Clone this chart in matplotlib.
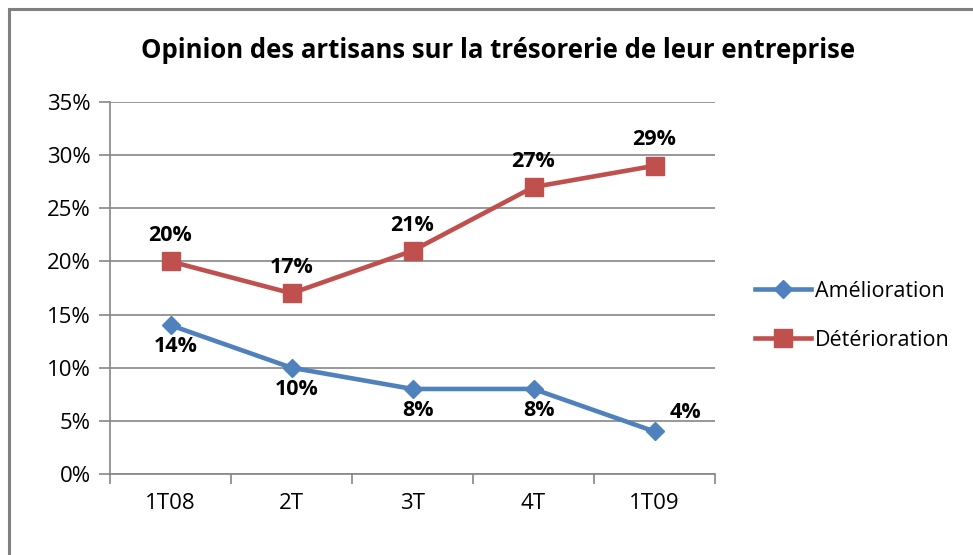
import matplotlib.pyplot as plt
from matplotlib.lines import Line2D
from matplotlib.patches import Rectangle

plt.rcParams['font.family'] = ['Open Sans', 'DejaVu Sans']

categories = ['1T08', '2T', '3T', '4T', '1T09']
amelioration = [14, 10, 8, 8, 4]
deterioration = [20, 17, 21, 27, 29]
yticks = [0, 5, 10, 15, 20, 25, 30, 35]

blue = '#4F81BD'
red = '#C0504D'
grid_grey = '#868686'

fig = plt.figure(figsize=(9.73, 5.55), dpi=100)
# outer chart frame (cropped on right/bottom in the reference)
fig.patches.append(Rectangle((9 / 973, -0.05), 1.1, 1 - 9 / 555 + 0.05,
                             transform=fig.transFigure, fill=False,
                             edgecolor='#808080', linewidth=2.2))

ax = fig.add_axes([110 / 973, 1 - 474 / 555, 605 / 973, 372 / 555])
x = range(len(categories))

ax.plot(x, amelioration, color=blue, linewidth=3.3, marker='D', markersize=9.5,
        label='Amélioration', zorder=3)
ax.plot(x, deterioration, color=red, linewidth=3.3, marker='s', markersize=13,
        label='Détérioration', zorder=3)

# data labels
for i, v in enumerate(deterioration):
    ax.annotate(f'{v}%', (i, v), xytext=(0, 11), textcoords='offset points',
                ha='center', va='bottom', fontsize=15.5, fontweight='bold')
for i, v in enumerate(amelioration):
    if i == len(amelioration) - 1:
        ax.annotate(f'{v}%', (i, v), xytext=(22, 6), textcoords='offset points',
                    ha='center', va='bottom', fontsize=15.5, fontweight='bold')
    else:
        ax.annotate(f'{v}%', (i, v), xytext=(4, -8), textcoords='offset points',
                    ha='center', va='top', fontsize=15.5, fontweight='bold')

ax.set_xlim(-0.5, len(categories) - 0.5)
ax.set_ylim(0, 35)
ax.set_yticks(yticks)
ax.set_yticklabels([f'{t}%' for t in yticks], fontsize=16)
ax.set_xticks(list(x))
ax.set_xticklabels(categories, fontsize=16)
ax.tick_params(axis='x', length=0, pad=14)
ax.set_xticks([i - 0.5 for i in range(len(categories) + 1)], minor=True)
ax.tick_params(axis='x', which='minor', length=7, color=grid_grey, width=1.2)
ax.tick_params(axis='y', length=8, color=grid_grey, width=1.2, pad=6)
ax.yaxis.grid(True, color=grid_grey, linewidth=1.2)
ax.set_axisbelow(True)
for side in ['top', 'right']:
    ax.spines[side].set_visible(False)
for side in ['left', 'bottom']:
    ax.spines[side].set_color(grid_grey)
    ax.spines[side].set_linewidth(1.2)

fig.text(498 / 973, 1 - 50 / 555, 'Opinion des artisans sur la trésorerie de leur entreprise',
         ha='center', va='center', fontsize=18.5, fontweight='bold')

handles = [Line2D([], [], color=blue, linewidth=3.3, marker='D', markersize=9.5),
           Line2D([], [], color=red, linewidth=3.3, marker='s', markersize=13)]
fig.legend(handles, ['Amélioration', 'Détérioration'], loc='center left',
           bbox_to_anchor=(755 / 973, 1 - 316 / 555), frameon=False, borderpad=0,
           borderaxespad=0, fontsize=15.5, handlelength=2.6, handletextpad=0.2,
           labelspacing=1.3)

fig.savefig('out.png', dpi=100)
